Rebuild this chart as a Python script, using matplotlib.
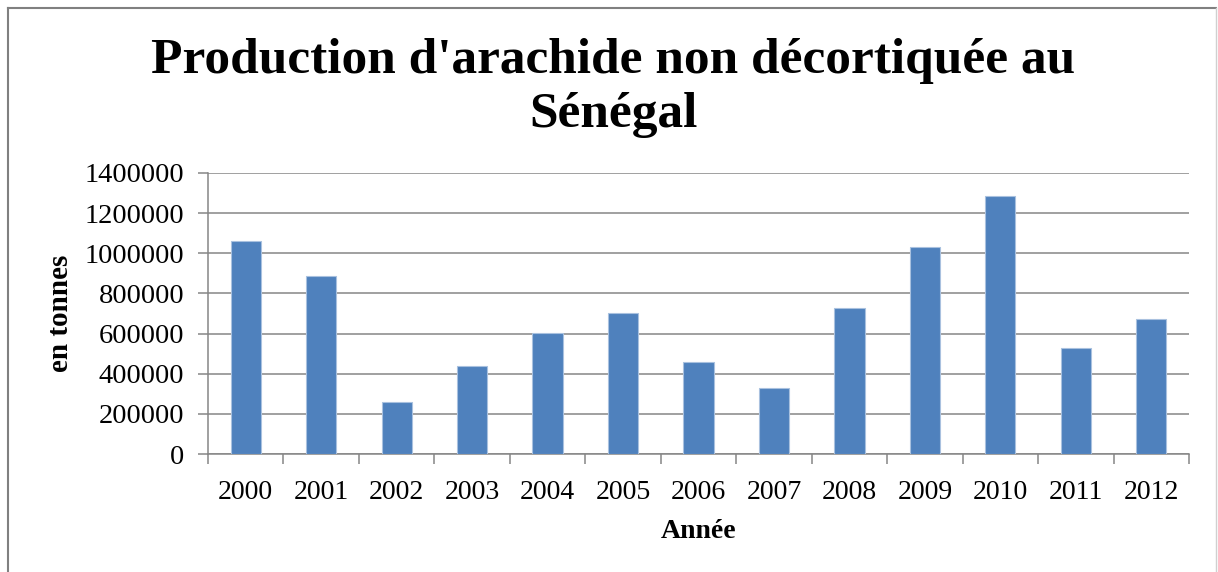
import matplotlib
matplotlib.use("Agg")
import matplotlib.pyplot as plt
from matplotlib.lines import Line2D
import numpy as np

# production d'arachide non decortiquee (tonnes)
years = ['2000', '2001', '2002', '2003', '2004', '2005', '2006',
         '2007', '2008', '2009', '2010', '2011', '2012']
production = [1060000, 885000, 259000, 437000, 601000, 701000, 460000,
              329000, 729000, 1030000, 1287000, 526000, 671000]
yticks = [0, 200000, 400000, 600000, 800000, 1000000, 1200000, 1400000]

plt.rcParams['font.family'] = ['Liberation Serif', 'DejaVu Serif']

fig = plt.figure(figsize=(12.18, 5.72), dpi=100)
ax = fig.add_axes([208/1218, 1-454/572, (1189-208)/1218, (454-173)/572])

x = np.arange(len(years))
ax.bar(x, production, width=0.4, color='#4F81BD', edgecolor='#A9C1DF',
       linewidth=0.8, zorder=3)

ax.set_xlim(-0.5, len(years)-0.5)
ax.set_ylim(0, 1400000)
ax.set_yticks(yticks)
ax.set_yticklabels([str(v) for v in yticks])
ax.set_xticks(x)
ax.set_xticklabels(years)
ax.set_xticks(np.arange(-0.5, len(years), 1.0), minor=True)

ax.tick_params(axis='x', which='major', length=0, pad=19, labelsize=20)
ax.tick_params(axis='x', which='minor', length=7, width=1.1, color='#868686',
               direction='out')
ax.tick_params(axis='y', length=7, width=1.1, color='#868686', pad=10,
               labelsize=20.5)

ax.grid(axis='y', color='#868686', linewidth=1.1, zorder=0)
ax.set_axisbelow(True)
for s in ['top', 'right']:
    ax.spines[s].set_visible(False)
for s in ['left', 'bottom']:
    ax.spines[s].set_color('#868686')
    ax.spines[s].set_linewidth(1.1)

ax.set_xlabel('Année', fontsize=20, fontweight='bold', labelpad=10)
ax.set_ylabel('en tonnes', fontsize=21, fontweight='bold', labelpad=8)

fig.text(613/1218, 1-127/572, "Production d'arachide non décortiquée au\nSénégal",
         ha='center', va='baseline', fontsize=37, fontweight='bold',
         linespacing=1.22, multialignment='center')

# chart frame
fig.add_artist(Line2D([7.5/1218, 7.5/1218], [0, 1-7.5/572],
                      transform=fig.transFigure, color='#808080', linewidth=1.5))
fig.add_artist(Line2D([7.5/1218, 1216/1218], [1-7.5/572, 1-7.5/572],
                      transform=fig.transFigure, color='#808080', linewidth=1.5))
fig.add_artist(Line2D([1216/1218, 1216/1218], [0, 1-7.5/572],
                      transform=fig.transFigure, color='#D0D0D0', linewidth=1.0))

fig.savefig('out.png', dpi=100)
